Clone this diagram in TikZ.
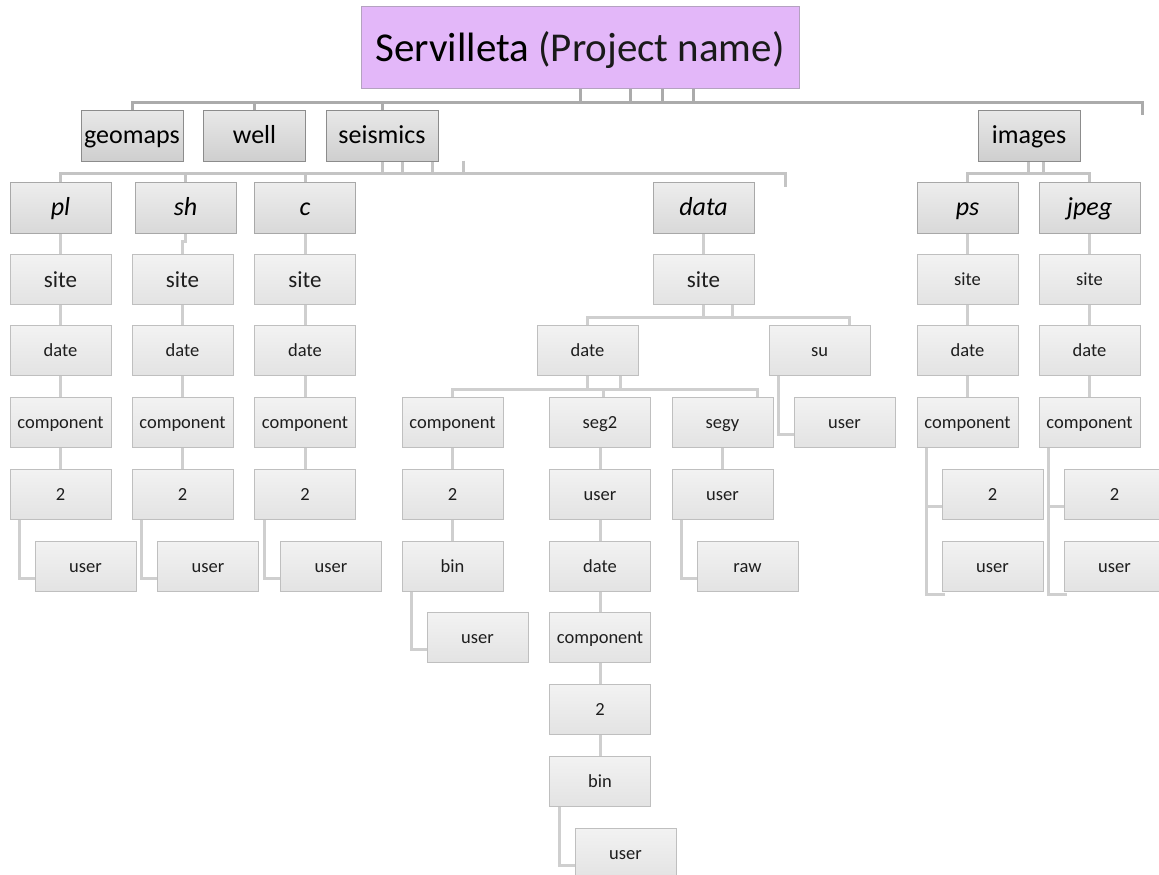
\documentclass[tikz,border=0pt]{standalone}
\usepackage{fontspec}
\setmainfont{Carlito}
\usetikzlibrary{calc,backgrounds}
\definecolor{rootfill}{HTML}{E3B7F9}
\definecolor{rootline}{HTML}{B4A2C0}
\definecolor{rootsub}{HTML}{1A1A1A}
\definecolor{topline}{HTML}{8C8C8C}
\definecolor{midline}{HTML}{A8A8A8}
\definecolor{lowline}{HTML}{BFBFBF}
\definecolor{busdark}{HTML}{ABABAB}
\definecolor{busmid}{HTML}{C4C4C4}
\definecolor{linklight}{HTML}{CFCFCF}
\definecolor{txt}{HTML}{1E1E1E}
\newcommand\fsz[1]{\fontsize{#1}{#1}\selectfont}
\begin{document}
\begin{tikzpicture}[x=1pt,y=-1pt,
  rootbox/.style={draw=rootline,line width=1pt,fill=rootfill,minimum width=438pt,minimum height=81pt,inner sep=0pt,font=\fsz{41},text height=34pt,text depth=5pt},
  topbox/.style={draw=topline,line width=1pt,top color=black!9,bottom color=black!19,minimum width=102pt,minimum height=51pt,inner sep=0pt,font=\fsz{26},text=black,text height=19pt,text depth=4pt},
  subbox/.style={draw=midline,line width=1pt,top color=black!7,bottom color=black!15,minimum width=101pt,minimum height=51pt,inner sep=0pt,font=\fsz{26}\itshape,text=black,text height=19pt,text depth=4pt},
  leaf/.style={draw=lowline,line width=1pt,top color=black!5,bottom color=black!11,minimum width=101pt,minimum height=50pt,inner sep=0pt,font=\fsz{18.5},text=txt,text height=14.5pt,text depth=2pt},
  bigleaf/.style={leaf,font=\fsz{23},text height=19pt,text depth=4pt},
  busA/.style={draw=busdark,line width=3pt},
  busB/.style={draw=busmid,line width=3pt},
  link/.style={draw=linklight,line width=3pt}]
\useasboundingbox (0,0) rectangle (1159,875);

% project root and first level
\node[rootbox] (root) at (580,47.5) {Servilleta \textcolor{rootsub}{(Project name)}};
\node[topbox] (geomaps)  at (132,135.5)  {geomaps};
\node[topbox] (well)     at (254.5,135.5){well};
\node[topbox,minimum width=112pt] (seismics) at (382,135.5) {seismics};
\node[topbox] (images)   at (1029,135.5) {images};

% second level
\node[subbox] (pl)   at (60.5,207.5)  {pl};
\node[subbox] (sh)   at (185.5,207.5) {sh};
\node[subbox] (c)    at (305,207.5)   {c};
\node[subbox] (data) at (703.5,207.5) {data};
\node[subbox] (ps)   at (967.5,207.5) {ps};
\node[subbox] (jpeg) at (1089.5,207.5){jpeg};

% seismic columns pl / sh / c
\node[bigleaf] (plsite) at (60.5,279.5) {site};
\node[leaf] (pldate) at (60.5,350.5) {date};
\node[leaf] (plcomp) at (60.5,422) {component};
\node[leaf] (pltwo)  at (60.5,494) {2};
\node[leaf] (pluser) at (85.5,566) {user};

\node[bigleaf] (shsite) at (182.5,279.5) {site};
\node[leaf] (shdate) at (182.5,350.5) {date};
\node[leaf] (shcomp) at (182.5,422) {component};
\node[leaf] (shtwo)  at (182.5,494) {2};
\node[leaf] (shuser) at (208,566) {user};

\node[bigleaf] (csite) at (305,279.5) {site};
\node[leaf] (cdate) at (305,350.5) {date};
\node[leaf] (ccomp) at (305,422) {component};
\node[leaf] (ctwo)  at (305,494) {2};
\node[leaf] (cuser) at (331,566) {user};

% data column
\node[bigleaf] (dsite) at (703.5,279.5) {site};
\node[leaf] (ddate) at (587.5,350.5) {date};
\node[leaf] (su)    at (819.5,350.5) {su};
\node[leaf] (suuser) at (844.5,422) {user};
\node[leaf] (dcomp) at (452.5,422) {component};
\node[leaf] (dtwo)  at (452.5,494) {2};
\node[leaf] (dbin)  at (452.5,566) {bin};
\node[leaf] (dbinuser) at (477.5,637.5) {user};
\node[leaf] (seg2)  at (600,422) {seg2};
\node[leaf] (sguser) at (600,494) {user};
\node[leaf] (sgdate) at (600,566) {date};
\node[leaf] (sgcomp) at (600,637.5) {component};
\node[leaf] (sgtwo)  at (600,709.5) {2};
\node[leaf] (sgbin)  at (600,781.5) {bin};
\node[leaf] (sgbinuser) at (625.5,853.5) {user};
\node[leaf] (segy)  at (722.5,422) {segy};
\node[leaf] (syuser) at (722.5,494) {user};
\node[leaf] (raw)   at (747.5,566) {raw};

% image columns ps / jpeg
\node[leaf] (pssite) at (967.5,279.5) {site};
\node[leaf] (psdate) at (967.5,350.5) {date};
\node[leaf] (pscomp) at (967.5,422) {component};
\node[leaf] (pstwo)  at (992.5,494) {2};
\node[leaf] (psuser) at (992.5,566) {user};

\node[leaf] (jpsite) at (1089.5,279.5) {site};
\node[leaf] (jpdate) at (1089.5,350.5) {date};
\node[leaf] (jpcomp) at (1089.5,422) {component};
\node[leaf] (jptwo)  at (1114.5,494) {2};
\node[leaf] (jpuser) at (1114.5,566) {user};

\begin{pgfonlayer}{background}
  % bus under the project root
  \coordinate (busroot) at (0,102);
  \coordinate (rootend) at (1142,115);
  \draw[busA] (geomaps.north) -- (geomaps.north |- busroot) -- (busroot -| rootend) -- (rootend);
  \draw[busA] (well.north) -- (well.north |- busroot);
  \draw[busA] (seismics.north) -- (seismics.north |- busroot);
  \foreach \dx in {0,50,82,113}
    \draw[busA] ($(root.south)+(\dx,0)$) -- ($(root.south |- busroot)+(\dx,0)$);

  % bus under seismics
  \coordinate (busseis) at (0,173.5);
  \coordinate (seisend) at (785,187);
  \draw[busB] (pl.north) -- (pl.north |- busseis) -- (busseis -| seisend) -- (seisend);
  \draw[busB] (sh.north) -- (sh.north |- busseis);
  \draw[busB] (c.north) -- (c.north |- busseis);
  \foreach \dx in {0,20,50}
    \draw[busB] ($(seismics.south)+(\dx,0)$) -- ($(seismics.south |- busseis)+(\dx,0)$);
  \draw[busB] ($(seismics.south)+(81,-1)$) -- ($(seismics.south |- busseis)+(81,0)$);

  % bus under images
  \draw[busB] (ps.north) -- (ps.north |- busseis) -- (busseis -| jpeg.north) -- (jpeg.north);
  \foreach \dx in {-1,14}
    \draw[busB] ($(images.south)+(\dx,0)$) -- ($(images.south |- busseis)+(\dx,0)$);

  % vertical chains
  \foreach \a/\b in {pl/plsite,plsite/pldate,pldate/plcomp,plcomp/pltwo,
                     shsite/shdate,shdate/shcomp,shcomp/shtwo,
                     c/csite,csite/cdate,cdate/ccomp,ccomp/ctwo,
                     data/dsite,dcomp/dtwo,dtwo/dbin,
                     seg2/sguser,sguser/sgdate,sgdate/sgcomp,sgcomp/sgtwo,sgtwo/sgbin,
                     segy/syuser,
                     ps/pssite,pssite/psdate,psdate/pscomp,
                     jpeg/jpsite,jpsite/jpdate,jpdate/jpcomp}
    \draw[link] (\a.south) -- (\b.north);
  \draw[link] (sh.south) -- ++(0,8) -| (shsite.north);

  % elbows to offset children
  \foreach \a/\b in {pltwo/pluser,shtwo/shuser,ctwo/cuser,dbin/dbinuser,
                     sgbin/sgbinuser,syuser/raw,su/suuser}
    \draw[link] ($(\a.south west)+(10,0)$) |- ($(\b.west)+(3,12)$);

  % bus under data/site
  \coordinate (busdata) at (0,317.5);
  \draw[link] (ddate.north) -- (ddate.north |- busdata) -- ($(su.north |- busdata)+(29.5,0)$) -- ($(su.north)+(29.5,0)$);
  \foreach \dx in {0,29}
    \draw[link] ($(dsite.south)+(\dx,0)$) -- ($(dsite.south |- busdata)+(\dx,0)$);

  % bus under data/site/date
  \coordinate (busdate) at (0,389);
  \draw[link] (dcomp.north) -- (dcomp.north |- busdate) -- ($(segy.north |- busdate)+(34.5,0)$) -- ($(segy.north)+(34.5,0)$);
  \draw[link] ($(seg2.north)+(3,0)$) -- ($(seg2.north |- busdate)+(3,0)$);
  \foreach \dx in {0,33}
    \draw[link] ($(ddate.south)+(\dx,0)$) -- ($(ddate.south |- busdate)+(\dx,0)$);

  % image component splits
  \foreach \col in {ps,jp} {
    \draw[link] ($(\col comp.south west)+(10,0)$) |- ($(\col user.west)+(3,28)$);
    \draw[link] ($(\col comp.south west)+(10,0)$) |- ($(\col two.west)+(3,12)$);
  }
\end{pgfonlayer}
\end{tikzpicture}
\end{document}
